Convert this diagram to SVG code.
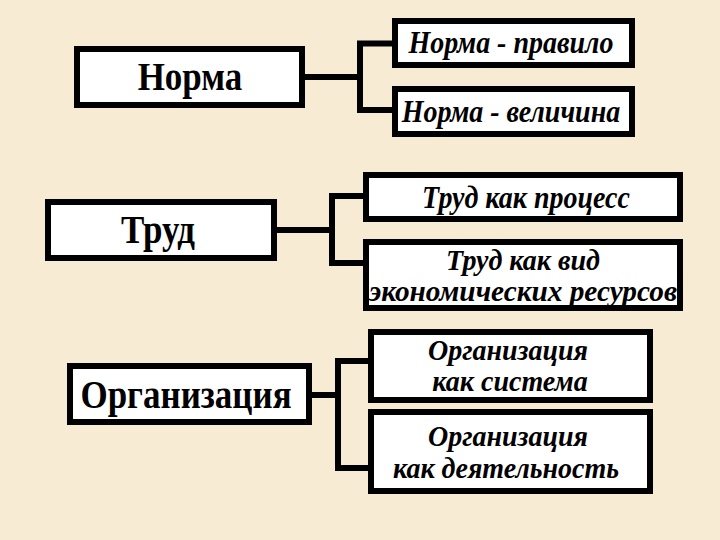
<svg xmlns="http://www.w3.org/2000/svg" width="720" height="540" viewBox="0 0 720 540">
<style>
.box{fill:#ffffff;stroke:#000000;stroke-width:6}
.main{font-family:"Liberation Serif","Times New Roman",serif;font-weight:bold;font-size:35px;fill:#000;text-anchor:middle}
.sub{font-family:"Liberation Serif","Times New Roman",serif;font-weight:bold;font-style:italic;font-size:28px;fill:#000;text-anchor:middle}
.con{fill:none;stroke:#000000;stroke-width:6;stroke-linejoin:miter}
</style>
<rect x="0" y="0" width="720" height="540" fill="#F8EBD3"/>
<g id="connectors">
<path class="con" d="M305,77 H360 M392,43.5 H360 V110 H392"/>
<path class="con" d="M277,230 H332 M363,196 H332 V263 H363"/>
<path class="con" d="M312,395 H338 M368,361 H338 V468 H368"/>
</g>
<g id="norma">
<rect class="box" x="77" y="49" width="225" height="56"/>
<text class="main" transform="translate(190,90) scale(1,1.12)">Норма</text>
</g>
<g id="norma-pravilo">
<rect class="box" x="395" y="21" width="237" height="44"/>
<text class="sub" transform="translate(511,53) scale(1,1.1)">Норма - правило</text>
</g>
<g id="norma-velichina">
<rect class="box" x="395" y="89" width="237" height="45"/>
<text class="sub" transform="translate(511,122) scale(1,1.1)">Норма - величина</text>
</g>
<g id="trud">
<rect class="box" x="48" y="202" width="226" height="56"/>
<text class="main" transform="translate(158,243) scale(1,1.12)">Труд</text>
</g>
<g id="trud-process">
<rect class="box" x="366" y="175" width="314" height="44"/>
<text class="sub" transform="translate(526,208) scale(1,1.1)">Труд как процесс</text>
</g>
<g id="trud-resursy">
<rect class="box" x="366" y="242" width="314" height="66"/>
<text class="sub" transform="translate(523,270) scale(1,1.05)">Труд как вид</text>
<text class="sub" transform="translate(523,301) scale(1,1.05)" textLength="308" lengthAdjust="spacingAndGlyphs">экономических ресурсов</text>
</g>
<g id="organizaciya">
<rect class="box" x="70" y="366" width="239" height="56"/>
<text class="main" transform="translate(186,408) scale(1,1.12)">Организация</text>
</g>
<g id="org-sistema">
<rect class="box" x="371" y="332" width="279" height="68"/>
<text class="sub" transform="translate(508,360) scale(1,1.05)">Организация</text>
<text class="sub" transform="translate(510,391) scale(1,1.05)">как система</text>
</g>
<g id="org-deyatelnost">
<rect class="box" x="371" y="412" width="279" height="79"/>
<text class="sub" transform="translate(508,446) scale(1,1.05)">Организация</text>
<text class="sub" transform="translate(506,478) scale(1,1.05)">как деятельность</text>
</g>
</svg>
